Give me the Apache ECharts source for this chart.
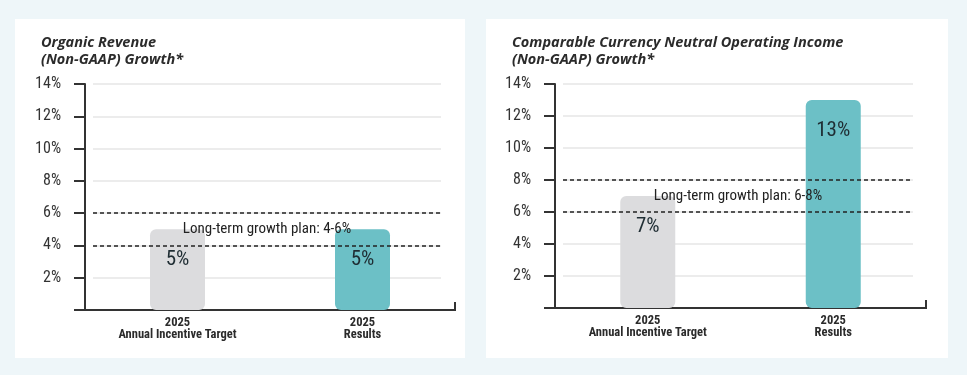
<!DOCTYPE html>
<html>
<head>
<meta charset="utf-8">
<script src="https://cdn.jsdelivr.net/npm/echarts@6/dist/echarts.min.js"></script>
<style>
  html, body { margin: 0; padding: 0; background: #eef6f9; width: 967px; height: 375px; overflow: hidden; }
  .panel { position: absolute; background: #fff; }
</style>
</head>
<body>
<div id="revenue" class="panel" style="left:15px;top:19px;width:450px;height:339px;"></div>
<div id="income" class="panel" style="left:486px;top:19px;width:462px;height:339px;"></div>
<script>
var categories = ['2025\nAnnual Incentive Target', '2025\nResults'];
var revenueValues = [5, 5];
var incomeValues = [7, 13];
var revenuePlan = [4, 6];
var incomePlan = [6, 8];
var revenueTitle = 'Organic Revenue\n(Non-GAAP) Growth*';
var incomeTitle = 'Comparable Currency Neutral Operating Income\n(Non-GAAP) Growth*';
var barColors = ['#dcdcde', '#6cc0c6'];
var yMin = 0, yMax = 14, yStep = 2;

var narrow = '"Roboto Condensed", "DejaVu Sans Condensed", sans-serif';

function makeChart(id, title, values, plan, g) {
    var chart = echarts.init(document.getElementById(id));
    var option = {
        animation: false,
        title: {
            text: title,
            left: 21,
            top: 10,
            textStyle: {
                fontFamily: '"Open Sans"',
                fontStyle: 'italic',
                fontWeight: 'bold',
                fontSize: 14.5,
                lineHeight: 17,
                color: '#2b2b2b'
            }
        },
        grid: [
            { left: g.left, right: g.right, top: 65, bottom: g.bottom },
            { left: g.left + 8, right: g.innerRight, top: 65, bottom: g.bottom }
        ],
        xAxis: [
            {
                type: 'category',
                gridIndex: 0,
                data: categories,
                axisLine: { lineStyle: { color: '#333', width: 2 } },
                axisTick: { show: false },
                axisLabel: {
                    interval: 0,
                    margin: 7,
                    fontFamily: narrow,
                    fontWeight: 'bold',
                    fontSize: 12.5,
                    lineHeight: 12,
                    color: '#2b2b2b'
                }
            },
            { type: 'category', gridIndex: 1, data: categories, show: false }
        ],
        yAxis: [
            {
                type: 'value',
                gridIndex: 0,
                min: yMin, max: yMax, interval: yStep,
                axisLine: { show: true, lineStyle: { color: '#333', width: 2 } },
                axisTick: { show: true, length: 11, lineStyle: { color: '#333', width: 2 } },
                splitLine: { show: false },
                axisLabel: {
                    margin: 24,
                    fontFamily: narrow,
                    fontSize: 16,
                    color: '#333',
                    formatter: function (v) { return v === 0 ? '' : v + '%'; }
                }
            },
            {
                type: 'value',
                gridIndex: 1,
                min: yMin, max: yMax, interval: yStep,
                axisLine: { show: false },
                axisTick: { show: false },
                axisLabel: { show: false },
                splitLine: { show: true, lineStyle: { color: '#e6e6e6', width: 1.5 } }
            }
        ],
        series: [
            {
                type: 'bar',
                xAxisIndex: 0,
                yAxisIndex: 0,
                barWidth: 55,
                z: 1,
                data: values.map(function (v, i) {
                    return { value: v, itemStyle: { color: barColors[i] } };
                }),
                itemStyle: { borderRadius: 6 },
                label: {
                    show: true,
                    position: 'insideTop',
                    distance: 20,
                    formatter: '{c}%',
                    fontFamily: narrow,
                    fontSize: 21,
                    color: '#1f2d33'
                }
            },
            {
                type: 'line',
                xAxisIndex: 1,
                yAxisIndex: 1,
                data: [],
                z: 5,
                markLine: {
                    silent: true,
                    z: 6,
                    symbol: 'none',
                    label: { show: false },
                    lineStyle: { color: '#222', width: 1.5, type: [4, 3] },
                    data: plan.map(function (p) { return { yAxis: p }; })
                },
                markArea: {
                    silent: true,
                    z: 7,
                    itemStyle: { color: 'rgba(0,0,0,0)' },
                    label: {
                        show: true,
                        position: 'inside',
                        fontFamily: narrow,
                        fontSize: 15,
                        color: '#222',
                        formatter: 'Long-term growth plan: ' + plan[0] + '-' + plan[1] + '%'
                    },
                    data: [[{ yAxis: plan[0] }, { yAxis: plan[1] }]]
                }
            }
        ]
    };
    chart.setOption(option);
    // small upward tick closing the x axis
    var rect = chart.getModel().getComponent('grid', 0).coordinateSystem.getRect();
    chart.setOption({
        graphic: [{
            type: 'line',
            shape: { x1: rect.x + rect.width, y1: rect.y + rect.height - 8, x2: rect.x + rect.width, y2: rect.y + rect.height + 1 },
            style: { stroke: '#333', lineWidth: 2 }
        }]
    });
    return chart;
}

var c1 = makeChart('revenue', revenueTitle, revenueValues, revenuePlan,
    { left: 70, right: 10, innerRight: 24, bottom: 48 });
var c2 = makeChart('income', incomeTitle, incomeValues, incomePlan,
    { left: 69, right: 22, innerRight: 35, bottom: 50 });
</script>
</body>
</html>
